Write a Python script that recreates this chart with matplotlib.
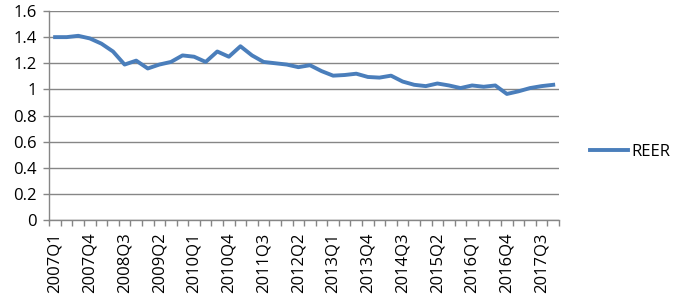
import numpy as np
import matplotlib
matplotlib.use('Agg')
import matplotlib.pyplot as plt

years = list(range(2007, 2018))
quarters = ['{}Q{}'.format(y, q) for y in years for q in range(1, 5)]

reer = [1.40, 1.40, 1.41, 1.39, 1.35, 1.29, 1.19, 1.22, 1.16, 1.19,
        1.21, 1.26, 1.25, 1.21, 1.29, 1.25, 1.33, 1.26, 1.21, 1.20,
        1.19, 1.17, 1.185, 1.14, 1.105, 1.11, 1.12, 1.095, 1.09, 1.105,
        1.06, 1.035, 1.025, 1.045, 1.03, 1.01, 1.03, 1.02, 1.03, 0.965,
        0.985, 1.01, 1.025, 1.035]

y_ticks = [0, 0.2, 0.4, 0.6, 0.8, 1, 1.2, 1.4, 1.6]
y_labels = ['0', '0.2', '0.4', '0.6', '0.8', '1', '1.2', '1.4', '1.6']

plt.rcParams['font.family'] = ['Open Sans', 'DejaVu Sans']
grid_col = '#868686'

fig = plt.figure(figsize=(6.84, 3.08), dpi=100)
ax = fig.add_axes([49.3 / 684, 1 - 220 / 308, (559 - 49.3) / 684, (220 - 11) / 308])

x = np.arange(len(quarters))
ax.plot(x, reer, color='#4A7EBB', lw=2.8, label='REER', solid_joinstyle='round', zorder=3)

ax.set_xlim(-0.5, len(quarters) - 0.5)
ax.set_ylim(0, 1.6)
ax.set_yticks(y_ticks)
ax.set_yticklabels(y_labels)
ax.yaxis.grid(True, color=grid_col, lw=1.0)
ax.set_axisbelow(True)

ax.set_xticks(x[::3])
ax.set_xticklabels(quarters[::3], rotation=90, va='top', ha='center')
ax.set_xticks(np.arange(-0.5, len(quarters), 1), minor=True)
ax.tick_params(axis='x', which='major', length=0, pad=9, labelsize=12)
ax.tick_params(axis='x', which='minor', length=4, color=grid_col, width=1.0, direction='out')
ax.tick_params(axis='y', length=4, color=grid_col, width=1.0, pad=5, labelsize=12)

for s in ['top', 'right']:
    ax.spines[s].set_visible(False)
for s in ['left', 'bottom']:
    ax.spines[s].set_color(grid_col)
    ax.spines[s].set_linewidth(1.0)

ax.legend(loc='center left', bbox_to_anchor=(590 / 684, 1 - 152 / 308), bbox_transform=fig.transFigure,
          frameon=False, fontsize=12, handlelength=2.3, handletextpad=0.2, borderpad=0, borderaxespad=0)

fig.savefig('out.png', dpi=100)
